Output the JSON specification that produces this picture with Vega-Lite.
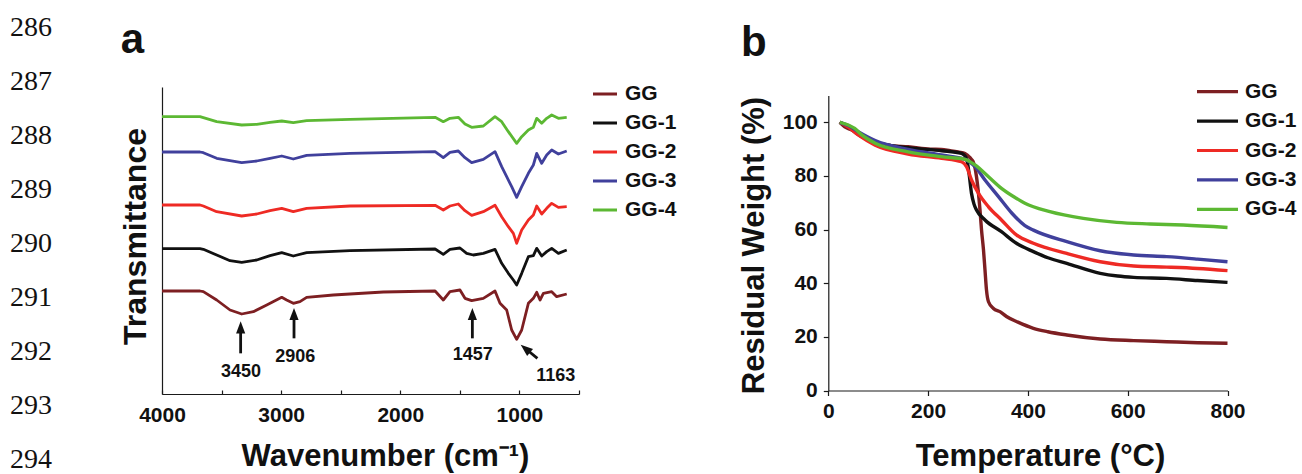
{
  "$schema": "https://vega.github.io/schema/vega-lite/v6.json",
  "width": 1302,
  "height": 474,
  "padding": 0,
  "autosize": {"type": "pad"},
  "background": "white",
  "config": {
    "view": {"stroke": null},
    "font": "Liberation Sans",
    "axis": {
      "grid": false,
      "labelFlush": false,
      "labelOverlap": false,
      "domainColor": "#1a1a1a",
      "domainWidth": 1.2,
      "tickColor": "#1a1a1a",
      "tickWidth": 1.2,
      "labelColor": "#111111",
      "titleColor": "#111111",
      "labelFont": "Liberation Sans",
      "titleFont": "Liberation Sans",
      "labelFontWeight": "bold",
      "titleFontWeight": "bold",
      "labelFontSize": 21,
      "titleFontSize": 31
    },
    "legend": {
      "labelFont": "Liberation Sans",
      "labelFontWeight": "bold",
      "labelColor": "#111111"
    }
  },
  "datasets": {
    "ftir": [
      {"s": "GG", "w": 4000, "t": 30.9}, {"s": "GG", "w": 3681, "t": 30.9}, {"s": "GG", "w": 3653, "t": 30.7}, {"s": "GG", "w": 3541, "t": 28.2}, {"s": "GG", "w": 3429, "t": 25.2}, {"s": "GG", "w": 3331, "t": 24.0}, {"s": "GG", "w": 3233, "t": 24.7}, {"s": "GG", "w": 3121, "t": 26.7}, {"s": "GG", "w": 2995, "t": 29.0}, {"s": "GG", "w": 2954, "t": 28.2}, {"s": "GG", "w": 2898, "t": 27.2}, {"s": "GG", "w": 2842, "t": 27.7}, {"s": "GG", "w": 2786, "t": 29.0}, {"s": "GG", "w": 2562, "t": 29.7}, {"s": "GG", "w": 2142, "t": 30.6}, {"s": "GG", "w": 1708, "t": 30.9}, {"s": "GG", "w": 1639, "t": 28.2}, {"s": "GG", "w": 1583, "t": 30.7}, {"s": "GG", "w": 1499, "t": 31.2}, {"s": "GG", "w": 1457, "t": 28.7}, {"s": "GG", "w": 1401, "t": 28.0}, {"s": "GG", "w": 1303, "t": 28.7}, {"s": "GG", "w": 1205, "t": 30.9}, {"s": "GG", "w": 1163, "t": 27.2}, {"s": "GG", "w": 1107, "t": 25.2}, {"s": "GG", "w": 1065, "t": 19.2}, {"s": "GG", "w": 1023, "t": 16.4}, {"s": "GG", "w": 981, "t": 19.2}, {"s": "GG", "w": 925, "t": 27.2}, {"s": "GG", "w": 883, "t": 28.7}, {"s": "GG", "w": 855, "t": 30.5}, {"s": "GG", "w": 827, "t": 28.2}, {"s": "GG", "w": 799, "t": 30.2}, {"s": "GG", "w": 729, "t": 30.7}, {"s": "GG", "w": 687, "t": 29.2}, {"s": "GG", "w": 603, "t": 30.0},
      {"s": "GG-1", "w": 4000, "t": 43.6}, {"s": "GG-1", "w": 3681, "t": 43.6}, {"s": "GG-1", "w": 3653, "t": 43.4}, {"s": "GG-1", "w": 3541, "t": 41.7}, {"s": "GG-1", "w": 3429, "t": 40.0}, {"s": "GG-1", "w": 3331, "t": 39.5}, {"s": "GG-1", "w": 3205, "t": 40.2}, {"s": "GG-1", "w": 3093, "t": 41.5}, {"s": "GG-1", "w": 2995, "t": 42.4}, {"s": "GG-1", "w": 2898, "t": 41.4}, {"s": "GG-1", "w": 2786, "t": 42.4}, {"s": "GG-1", "w": 2422, "t": 43.0}, {"s": "GG-1", "w": 1708, "t": 43.5}, {"s": "GG-1", "w": 1639, "t": 41.9}, {"s": "GG-1", "w": 1583, "t": 43.4}, {"s": "GG-1", "w": 1499, "t": 43.8}, {"s": "GG-1", "w": 1443, "t": 42.2}, {"s": "GG-1", "w": 1387, "t": 41.7}, {"s": "GG-1", "w": 1303, "t": 42.2}, {"s": "GG-1", "w": 1205, "t": 43.4}, {"s": "GG-1", "w": 1149, "t": 39.2}, {"s": "GG-1", "w": 1093, "t": 36.2}, {"s": "GG-1", "w": 1051, "t": 34.2}, {"s": "GG-1", "w": 1023, "t": 32.7}, {"s": "GG-1", "w": 981, "t": 36.2}, {"s": "GG-1", "w": 925, "t": 41.2}, {"s": "GG-1", "w": 883, "t": 41.5}, {"s": "GG-1", "w": 855, "t": 43.7}, {"s": "GG-1", "w": 813, "t": 41.4}, {"s": "GG-1", "w": 771, "t": 42.7}, {"s": "GG-1", "w": 729, "t": 43.7}, {"s": "GG-1", "w": 673, "t": 42.2}, {"s": "GG-1", "w": 603, "t": 43.2},
      {"s": "GG-2", "w": 4000, "t": 56.7}, {"s": "GG-2", "w": 3681, "t": 56.7}, {"s": "GG-2", "w": 3653, "t": 56.4}, {"s": "GG-2", "w": 3541, "t": 54.7}, {"s": "GG-2", "w": 3331, "t": 53.4}, {"s": "GG-2", "w": 3205, "t": 54.0}, {"s": "GG-2", "w": 3093, "t": 55.0}, {"s": "GG-2", "w": 2995, "t": 55.7}, {"s": "GG-2", "w": 2898, "t": 54.7}, {"s": "GG-2", "w": 2786, "t": 55.7}, {"s": "GG-2", "w": 2422, "t": 56.4}, {"s": "GG-2", "w": 1708, "t": 56.6}, {"s": "GG-2", "w": 1639, "t": 55.2}, {"s": "GG-2", "w": 1583, "t": 56.4}, {"s": "GG-2", "w": 1513, "t": 57.0}, {"s": "GG-2", "w": 1457, "t": 55.0}, {"s": "GG-2", "w": 1401, "t": 53.6}, {"s": "GG-2", "w": 1303, "t": 54.7}, {"s": "GG-2", "w": 1205, "t": 56.6}, {"s": "GG-2", "w": 1149, "t": 53.2}, {"s": "GG-2", "w": 1093, "t": 50.2}, {"s": "GG-2", "w": 1051, "t": 48.2}, {"s": "GG-2", "w": 1023, "t": 45.2}, {"s": "GG-2", "w": 981, "t": 49.2}, {"s": "GG-2", "w": 925, "t": 52.2}, {"s": "GG-2", "w": 883, "t": 53.7}, {"s": "GG-2", "w": 855, "t": 56.4}, {"s": "GG-2", "w": 813, "t": 54.0}, {"s": "GG-2", "w": 771, "t": 55.7}, {"s": "GG-2", "w": 729, "t": 57.2}, {"s": "GG-2", "w": 673, "t": 56.0}, {"s": "GG-2", "w": 603, "t": 56.2},
      {"s": "GG-3", "w": 4000, "t": 72.6}, {"s": "GG-3", "w": 3681, "t": 72.6}, {"s": "GG-3", "w": 3653, "t": 72.4}, {"s": "GG-3", "w": 3541, "t": 70.7}, {"s": "GG-3", "w": 3331, "t": 69.4}, {"s": "GG-3", "w": 3205, "t": 69.9}, {"s": "GG-3", "w": 3093, "t": 70.7}, {"s": "GG-3", "w": 2995, "t": 71.4}, {"s": "GG-3", "w": 2898, "t": 70.5}, {"s": "GG-3", "w": 2786, "t": 71.6}, {"s": "GG-3", "w": 2422, "t": 72.2}, {"s": "GG-3", "w": 1708, "t": 72.7}, {"s": "GG-3", "w": 1639, "t": 70.9}, {"s": "GG-3", "w": 1583, "t": 72.5}, {"s": "GG-3", "w": 1513, "t": 72.9}, {"s": "GG-3", "w": 1457, "t": 70.9}, {"s": "GG-3", "w": 1401, "t": 69.4}, {"s": "GG-3", "w": 1303, "t": 70.4}, {"s": "GG-3", "w": 1205, "t": 72.7}, {"s": "GG-3", "w": 1149, "t": 68.2}, {"s": "GG-3", "w": 1107, "t": 65.2}, {"s": "GG-3", "w": 1065, "t": 62.2}, {"s": "GG-3", "w": 1023, "t": 59.0}, {"s": "GG-3", "w": 981, "t": 62.2}, {"s": "GG-3", "w": 925, "t": 66.2}, {"s": "GG-3", "w": 883, "t": 68.7}, {"s": "GG-3", "w": 855, "t": 72.2}, {"s": "GG-3", "w": 813, "t": 69.2}, {"s": "GG-3", "w": 771, "t": 71.7}, {"s": "GG-3", "w": 729, "t": 73.2}, {"s": "GG-3", "w": 673, "t": 72.0}, {"s": "GG-3", "w": 603, "t": 72.9},
      {"s": "GG-4", "w": 4000, "t": 83.2}, {"s": "GG-4", "w": 3681, "t": 83.2}, {"s": "GG-4", "w": 3653, "t": 82.9}, {"s": "GG-4", "w": 3541, "t": 81.7}, {"s": "GG-4", "w": 3331, "t": 80.7}, {"s": "GG-4", "w": 3205, "t": 80.9}, {"s": "GG-4", "w": 3093, "t": 81.5}, {"s": "GG-4", "w": 2995, "t": 81.9}, {"s": "GG-4", "w": 2898, "t": 81.4}, {"s": "GG-4", "w": 2786, "t": 82.0}, {"s": "GG-4", "w": 2422, "t": 82.4}, {"s": "GG-4", "w": 1708, "t": 83.0}, {"s": "GG-4", "w": 1639, "t": 81.7}, {"s": "GG-4", "w": 1583, "t": 82.7}, {"s": "GG-4", "w": 1513, "t": 83.0}, {"s": "GG-4", "w": 1457, "t": 81.0}, {"s": "GG-4", "w": 1401, "t": 80.0}, {"s": "GG-4", "w": 1303, "t": 80.4}, {"s": "GG-4", "w": 1205, "t": 83.2}, {"s": "GG-4", "w": 1149, "t": 81.7}, {"s": "GG-4", "w": 1093, "t": 78.7}, {"s": "GG-4", "w": 1023, "t": 75.2}, {"s": "GG-4", "w": 981, "t": 77.2}, {"s": "GG-4", "w": 925, "t": 79.2}, {"s": "GG-4", "w": 883, "t": 80.0}, {"s": "GG-4", "w": 855, "t": 82.7}, {"s": "GG-4", "w": 813, "t": 81.2}, {"s": "GG-4", "w": 771, "t": 82.7}, {"s": "GG-4", "w": 729, "t": 83.7}, {"s": "GG-4", "w": 673, "t": 82.7}, {"s": "GG-4", "w": 603, "t": 83.0}
    ],
    "tga": [
      {"s": "GG", "T": 23, "W": 100}, {"s": "GG", "T": 33, "W": 98.3}, {"s": "GG", "T": 47, "W": 97.1}, {"s": "GG", "T": 67, "W": 94.6}, {"s": "GG", "T": 94, "W": 92.5}, {"s": "GG", "T": 130, "W": 91.2}, {"s": "GG", "T": 160, "W": 90.9}, {"s": "GG", "T": 204, "W": 90.0}, {"s": "GG", "T": 227, "W": 89.9}, {"s": "GG", "T": 244, "W": 89.4}, {"s": "GG", "T": 262, "W": 88.9}, {"s": "GG", "T": 274, "W": 88.4}, {"s": "GG", "T": 284, "W": 86.8}, {"s": "GG", "T": 291, "W": 85.0}, {"s": "GG", "T": 297, "W": 79.7}, {"s": "GG", "T": 304, "W": 67.3}, {"s": "GG", "T": 307, "W": 60.0}, {"s": "GG", "T": 311, "W": 52.4}, {"s": "GG", "T": 314, "W": 45.0}, {"s": "GG", "T": 317, "W": 37.5}, {"s": "GG", "T": 321, "W": 33.1}, {"s": "GG", "T": 331, "W": 30.6}, {"s": "GG", "T": 344, "W": 29.4}, {"s": "GG", "T": 357, "W": 27.6}, {"s": "GG", "T": 380, "W": 25.5}, {"s": "GG", "T": 411, "W": 23.2}, {"s": "GG", "T": 440, "W": 21.9}, {"s": "GG", "T": 478, "W": 20.7}, {"s": "GG", "T": 545, "W": 19.2}, {"s": "GG", "T": 612, "W": 18.6}, {"s": "GG", "T": 678, "W": 18.2}, {"s": "GG", "T": 740, "W": 17.8}, {"s": "GG", "T": 800, "W": 17.6},
      {"s": "GG-1", "T": 23, "W": 100}, {"s": "GG-1", "T": 47, "W": 97.7}, {"s": "GG-1", "T": 67, "W": 95.0}, {"s": "GG-1", "T": 94, "W": 92.6}, {"s": "GG-1", "T": 160, "W": 90.5}, {"s": "GG-1", "T": 227, "W": 89.4}, {"s": "GG-1", "T": 267, "W": 88.4}, {"s": "GG-1", "T": 277, "W": 86.5}, {"s": "GG-1", "T": 282, "W": 81.0}, {"s": "GG-1", "T": 287, "W": 73.5}, {"s": "GG-1", "T": 292, "W": 69.5}, {"s": "GG-1", "T": 297, "W": 67.3}, {"s": "GG-1", "T": 314, "W": 63.6}, {"s": "GG-1", "T": 347, "W": 59.2}, {"s": "GG-1", "T": 377, "W": 54.9}, {"s": "GG-1", "T": 411, "W": 51.8}, {"s": "GG-1", "T": 440, "W": 49.5}, {"s": "GG-1", "T": 478, "W": 47.4}, {"s": "GG-1", "T": 545, "W": 43.7}, {"s": "GG-1", "T": 580, "W": 42.7}, {"s": "GG-1", "T": 612, "W": 42.2}, {"s": "GG-1", "T": 678, "W": 41.8}, {"s": "GG-1", "T": 740, "W": 41.0}, {"s": "GG-1", "T": 800, "W": 40.3},
      {"s": "GG-2", "T": 23, "W": 100}, {"s": "GG-2", "T": 40, "W": 98.2}, {"s": "GG-2", "T": 60, "W": 95.3}, {"s": "GG-2", "T": 94, "W": 91.5}, {"s": "GG-2", "T": 160, "W": 88.2}, {"s": "GG-2", "T": 227, "W": 86.6}, {"s": "GG-2", "T": 267, "W": 85.3}, {"s": "GG-2", "T": 277, "W": 83.5}, {"s": "GG-2", "T": 287, "W": 78.5}, {"s": "GG-2", "T": 301, "W": 73.5}, {"s": "GG-2", "T": 321, "W": 68.5}, {"s": "GG-2", "T": 347, "W": 63.6}, {"s": "GG-2", "T": 377, "W": 58.0}, {"s": "GG-2", "T": 411, "W": 54.9}, {"s": "GG-2", "T": 478, "W": 51.1}, {"s": "GG-2", "T": 545, "W": 48.0}, {"s": "GG-2", "T": 612, "W": 46.4}, {"s": "GG-2", "T": 678, "W": 46.0}, {"s": "GG-2", "T": 740, "W": 45.5}, {"s": "GG-2", "T": 800, "W": 44.7},
      {"s": "GG-3", "T": 23, "W": 100}, {"s": "GG-3", "T": 40, "W": 98.8}, {"s": "GG-3", "T": 60, "W": 96.5}, {"s": "GG-3", "T": 94, "W": 93.2}, {"s": "GG-3", "T": 160, "W": 89.9}, {"s": "GG-3", "T": 227, "W": 87.8}, {"s": "GG-3", "T": 274, "W": 86.2}, {"s": "GG-3", "T": 294, "W": 83.5}, {"s": "GG-3", "T": 314, "W": 78.5}, {"s": "GG-3", "T": 341, "W": 72.3}, {"s": "GG-3", "T": 368, "W": 66.1}, {"s": "GG-3", "T": 394, "W": 61.5}, {"s": "GG-3", "T": 411, "W": 59.8}, {"s": "GG-3", "T": 478, "W": 55.5}, {"s": "GG-3", "T": 545, "W": 52.1}, {"s": "GG-3", "T": 612, "W": 50.5}, {"s": "GG-3", "T": 678, "W": 49.9}, {"s": "GG-3", "T": 740, "W": 49.0}, {"s": "GG-3", "T": 800, "W": 48.0},
      {"s": "GG-4", "T": 23, "W": 100}, {"s": "GG-4", "T": 40, "W": 99.0}, {"s": "GG-4", "T": 53, "W": 97.7}, {"s": "GG-4", "T": 67, "W": 95.3}, {"s": "GG-4", "T": 94, "W": 92.2}, {"s": "GG-4", "T": 160, "W": 89.0}, {"s": "GG-4", "T": 227, "W": 87.2}, {"s": "GG-4", "T": 274, "W": 86.2}, {"s": "GG-4", "T": 294, "W": 84.1}, {"s": "GG-4", "T": 321, "W": 79.7}, {"s": "GG-4", "T": 347, "W": 75.4}, {"s": "GG-4", "T": 374, "W": 72.0}, {"s": "GG-4", "T": 394, "W": 69.8}, {"s": "GG-4", "T": 444, "W": 66.7}, {"s": "GG-4", "T": 511, "W": 64.2}, {"s": "GG-4", "T": 578, "W": 62.7}, {"s": "GG-4", "T": 645, "W": 62.1}, {"s": "GG-4", "T": 711, "W": 61.7}, {"s": "GG-4", "T": 800, "W": 60.8}
    ],
    "shafts": [
      {"w": 3340, "t": 12.2, "w2": 3340, "t2": 20.0},
      {"w": 2892, "t": 16.7, "w2": 2892, "t2": 24.0},
      {"w": 1395, "t": 16.7, "w2": 1395, "t2": 24.0},
      {"w": 849, "t": 10.7, "w2": 955, "t2": 13.8}
    ],
    "heads": [
      {"w": 3340, "t": 20.0},
      {"w": 2892, "t": 24.0},
      {"w": 1395, "t": 24.0}
    ],
    "diaghead": [
      {"w": 950, "t": 13.6}
    ],
    "peaks": [
      {"w": 3337, "t": 6.7, "label": "3450"},
      {"w": 2881, "t": 11.2, "label": "2906"},
      {"w": 1392, "t": 11.7, "label": "1457"},
      {"w": 695, "t": 5.4, "label": "1163"}
    ],
    "lines": [
      {"n": 286}, {"n": 287}, {"n": 288}, {"n": 289}, {"n": 290}, {"n": 291}, {"n": 292}, {"n": 293}, {"n": 294}
    ]
  },
  "layer": [
    {
      "layer": [
        {
          "data": {"name": "ftir"},
          "mark": {"type": "line", "strokeWidth": 2.8, "strokeJoin": "round"},
          "encoding": {
            "x": {
              "field": "w", "type": "quantitative",
              "scale": {"domain": [4000, 500], "range": [162, 579], "nice": false, "zero": false},
              "axis": {
                "orient": "bottom", "offset": -80,
                "values": [4000, 3500, 3000, 2500, 2000, 1500, 1000, 500],
                "format": "d",
                "labelExpr": "datum.value % 1000 == 0 ? datum.label : ''",
                "tickSize": -4, "labelPadding": 14,
                "title": "Wavenumber (cm⁻¹)",
                "titleX": 385, "titleY": 71, "titleBaseline": "alphabetic", "titleFontSize": 31
              }
            },
            "y": {
              "field": "t", "type": "quantitative",
              "scale": {"domain": [0, 92.1], "range": [394, 87], "nice": false, "zero": false},
              "axis": {
                "orient": "left", "offset": -162,
                "labels": false, "ticks": false,
                "title": "Transmittance",
                "titleX": -17, "titleY": 236, "titleBaseline": "alphabetic", "titleAngle": -90, "titleAlign": "center", "titleFontSize": 32
              }
            },
            "color": {
              "field": "s", "type": "nominal",
              "scale": {"domain": ["GG", "GG-1", "GG-2", "GG-3", "GG-4"], "range": ["#7d1f22", "#111111", "#ee2a24", "#40409c", "#5cb833"]},
              "legend": {
                "orient": "none", "legendX": 591, "legendY": 82, "title": null, "padding": 0,
                "symbolType": "stroke", "symbolSize": 576, "symbolStrokeWidth": 3.2,
                "labelFontSize": 21, "labelOffset": 6, "rowPadding": 5, "clipHeight": 24
              }
            }
          }
        },
        {
          "data": {"name": "shafts"},
          "mark": {"type": "rule", "strokeWidth": 2.8, "color": "#111111"},
          "encoding": {
            "x": {"field": "w", "type": "quantitative", "scale": {"domain": [4000, 500], "range": [162, 579], "nice": false, "zero": false}},
            "y": {"field": "t", "type": "quantitative", "scale": {"domain": [0, 92.1], "range": [394, 87], "nice": false, "zero": false}},
            "x2": {"field": "w2"},
            "y2": {"field": "t2"}
          }
        },
        {
          "data": {"name": "heads"},
          "mark": {"type": "point", "shape": "M0,-1L0.75,1L-0.75,1Z", "filled": true, "size": 150, "color": "#111111", "opacity": 1},
          "encoding": {
            "x": {"field": "w", "type": "quantitative", "scale": {"domain": [4000, 500], "range": [162, 579], "nice": false, "zero": false}},
            "y": {"field": "t", "type": "quantitative", "scale": {"domain": [0, 92.1], "range": [394, 87], "nice": false, "zero": false}}
          }
        },
        {
          "data": {"name": "diaghead"},
          "mark": {"type": "point", "shape": "M0,-1L0.75,1L-0.75,1Z", "filled": true, "size": 150, "color": "#111111", "opacity": 1, "angle": 310},
          "encoding": {
            "x": {"field": "w", "type": "quantitative", "scale": {"domain": [4000, 500], "range": [162, 579], "nice": false, "zero": false}},
            "y": {"field": "t", "type": "quantitative", "scale": {"domain": [0, 92.1], "range": [394, 87], "nice": false, "zero": false}}
          }
        },
        {
          "data": {"name": "peaks"},
          "mark": {"type": "text", "font": "Liberation Sans", "fontWeight": "bold", "fontSize": 18, "baseline": "middle", "align": "center", "color": "#111111"},
          "encoding": {
            "x": {"field": "w", "type": "quantitative", "scale": {"domain": [4000, 500], "range": [162, 579], "nice": false, "zero": false}},
            "y": {"field": "t", "type": "quantitative", "scale": {"domain": [0, 92.1], "range": [394, 87], "nice": false, "zero": false}},
            "text": {"field": "label"}
          }
        },
        {
          "data": {"values": [{"w": 4346, "t": 102.3, "label": "a"}]},
          "mark": {"type": "text", "font": "Liberation Sans", "fontWeight": "bold", "fontSize": 42, "baseline": "alphabetic", "align": "left", "color": "#111111"},
          "encoding": {
            "x": {"field": "w", "type": "quantitative", "scale": {"domain": [4000, 500], "range": [162, 579], "nice": false, "zero": false}},
            "y": {"field": "t", "type": "quantitative", "scale": {"domain": [0, 92.1], "range": [394, 87], "nice": false, "zero": false}},
            "text": {"field": "label"}
          }
        }
      ]
    },
    {
      "layer": [
        {
          "data": {"name": "tga"},
          "mark": {"type": "line", "strokeWidth": 3.4, "interpolate": "monotone"},
          "encoding": {
            "x": {
              "field": "T", "type": "quantitative",
              "scale": {"domain": [0, 800], "range": [828.3, 1227.5], "nice": false, "zero": false},
              "axis": {
                "orient": "bottom", "offset": -83.5,
                "values": [0, 200, 400, 600, 800],
                "tickSize": 5, "labelPadding": 5,
                "title": "Temperature (°C)",
                "titleX": 1040, "titleY": 74.5, "titleBaseline": "alphabetic", "titleFontSize": 31
              }
            },
            "y": {
              "field": "W", "type": "quantitative",
              "scale": {"domain": [0, 110], "range": [390.5, 95.5], "nice": false, "zero": false},
              "axis": {
                "orient": "left", "offset": -828.3,
                "values": [0, 20, 40, 60, 80, 100],
                "tickSize": 5, "labelPadding": 6,
                "title": "Residual Weight (%)",
                "titleX": -65, "titleY": 245, "titleBaseline": "alphabetic", "titleAngle": -90, "titleAlign": "center", "titleFontSize": 31
              }
            },
            "color": {
              "field": "s", "type": "nominal",
              "scale": {"domain": ["GG", "GG-1", "GG-2", "GG-3", "GG-4"], "range": ["#7d1f22", "#111111", "#ee2a24", "#40409c", "#5cb833"]},
              "legend": {
                "orient": "none", "legendX": 1195, "legendY": 79.7, "title": null, "padding": 0,
                "symbolType": "stroke", "symbolSize": 1681, "symbolStrokeWidth": 3.2,
                "labelFontSize": 21, "labelOffset": 5, "rowPadding": 5.4, "clipHeight": 24
              }
            }
          }
        },
        {
          "data": {"values": [{"T": -175, "W": 124.7, "label": "b"}]},
          "mark": {"type": "text", "font": "Liberation Sans", "fontWeight": "bold", "fontSize": 42, "baseline": "alphabetic", "align": "left", "color": "#111111"},
          "encoding": {
            "x": {"field": "T", "type": "quantitative", "scale": {"domain": [0, 800], "range": [828.3, 1227.5], "nice": false, "zero": false}},
            "y": {"field": "W", "type": "quantitative", "scale": {"domain": [0, 110], "range": [390.5, 95.5], "nice": false, "zero": false}},
            "text": {"field": "label"}
          }
        }
      ]
    },
    {
      "data": {"name": "lines"},
      "mark": {"type": "text", "font": "Liberation Serif", "fontSize": 28, "baseline": "middle", "align": "left", "color": "#111111"},
      "encoding": {
        "x": {"datum": 0, "type": "quantitative", "scale": {"domain": [0, 1], "range": [10, 60]}, "axis": null},
        "y": {"field": "n", "type": "quantitative", "scale": {"domain": [286, 294], "range": [27.5, 460], "nice": false, "zero": false}, "axis": null},
        "text": {"field": "n", "type": "quantitative", "format": "d"}
      }
    }
  ],
  "resolve": {"scale": {"x": "independent", "y": "independent", "color": "independent"}}
}
